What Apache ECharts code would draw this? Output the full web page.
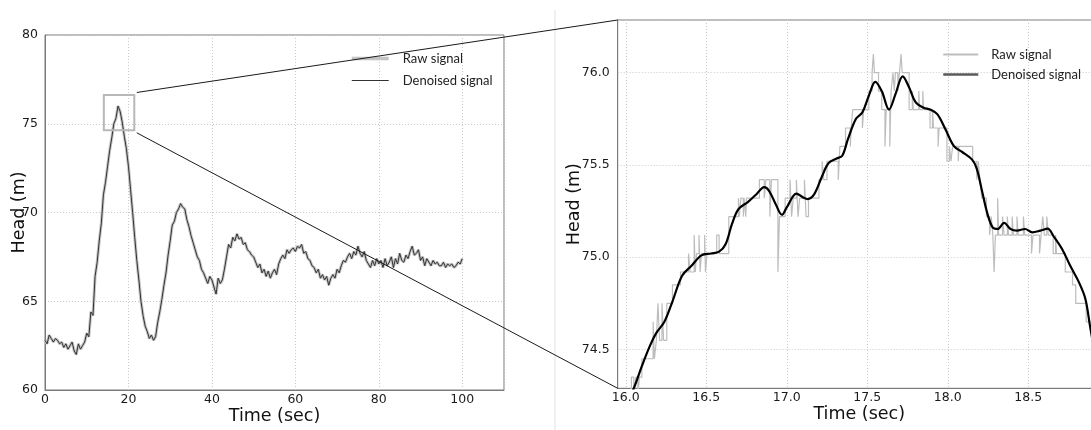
<!DOCTYPE html>
<html lang="en">
<head>
    <meta charset="UTF-8">
    <title>Head signal</title>
    <script src="https://cdn.jsdelivr.net/npm/echarts@6/dist/echarts.min.js"></script>
    <style>
        html, body { margin: 0; padding: 0; background: #fff; overflow: hidden; }
        #main { width: 1091px; height: 430px; }
    </style>
</head>
<body>
<div id="main"></div>
<script>
    // ---- data ----
    // full record, sampled every 0.5 s from 0 to 100 s
    var leftStep = 0.5;
    var leftRaw = [
        62.8, 62.6, 63.1, 62.9, 62.7, 62.9, 62.8, 62.6, 62.7, 62.4,
        62.6, 62.3, 62.5, 62.7, 62.2, 62.0, 62.6, 62.3, 62.5, 62.7,
        63.2, 63.0, 64.4, 64.2, 66.4, 67.2, 68.4, 69.4, 71.0, 71.7,
        72.6, 73.5, 74.2, 75.0, 75.3, 76.0, 75.7, 75.1, 74.3, 73.6,
        72.6, 71.3, 70.0, 68.6, 67.3, 66.2, 65.0, 64.2, 63.6, 63.3,
        62.9, 63.1, 62.8, 63.0, 63.8, 64.4, 65.1, 65.9, 66.6, 67.6,
        68.4, 69.3, 69.5, 70.0, 70.2, 70.5, 70.3, 70.2, 69.6, 69.2,
        68.7, 68.3, 67.9, 67.5, 67.3, 66.8, 66.6, 66.3, 66.0, 66.4,
        66.2, 65.8, 65.4, 66.3, 66.0, 66.2, 66.8, 67.5, 68.2, 68.0,
        68.6, 68.4, 68.8, 68.5, 68.6, 68.2, 68.3, 67.9, 67.8, 67.6,
        67.5, 67.2, 66.9, 67.1, 66.6, 66.8, 66.4, 66.7, 66.3, 66.6,
        66.8, 66.5, 67.1, 67.4, 67.6, 67.4, 67.9, 67.7, 67.9, 68.0,
        67.8, 68.1, 68.0, 68.2, 67.7, 67.8, 67.4, 67.3, 67.0, 66.9,
        66.6, 66.8, 66.3, 66.5, 66.2, 66.4, 65.9, 66.3, 66.5, 66.3,
        66.8, 66.6, 67.0, 67.3, 67.2, 67.5, 67.7, 67.4, 67.8, 67.6,
        68.1, 67.7, 67.5, 67.8, 67.3, 67.1, 66.9, 67.3, 67.0, 67.4,
        67.1, 67.3, 66.9, 67.4, 67.0, 67.2, 67.5, 66.9, 67.4, 67.1,
        67.7, 67.3, 67.2, 67.6, 67.4, 67.8, 68.1, 67.6, 67.7, 67.9,
        67.3, 67.5, 67.0, 67.4, 67.2, 67.0, 67.3, 67.1, 67.2, 67.0,
        67.0, 67.2, 66.9, 67.1, 67.0, 67.1, 66.9, 67.0, 67.2, 67.1,
        67.4
    ];

    // zoomed raw signal: times where the quantised reading changes, and the new reading
    var zoomRawT = [
        15.95, 16.035, 16.05, 16.062, 16.075, 16.085, 16.10, 16.17, 16.178, 16.19,
        16.20, 16.21, 16.225, 16.235, 16.255, 16.29, 16.34, 16.39, 16.40, 16.425,
        16.432, 16.44, 16.455, 16.462, 16.47, 16.49, 16.495, 16.505, 16.565, 16.58,
        16.64, 16.70, 16.705, 16.715, 16.73, 16.735, 16.745, 16.75, 16.83, 16.86,
        16.87, 16.895, 16.905, 16.945, 16.955, 16.99, 17.02, 17.03, 17.04, 17.06,
        17.07, 17.08, 17.11, 17.12, 17.135, 17.20, 17.22, 17.23, 17.25, 17.32,
        17.33, 17.365, 17.395, 17.40, 17.41, 17.47, 17.478, 17.51, 17.53, 17.538,
        17.545, 17.57, 17.59, 17.61, 17.618, 17.64, 17.648, 17.66, 17.668, 17.675,
        17.69, 17.70, 17.71, 17.717, 17.76, 17.78, 17.786, 17.82, 17.826, 17.845,
        17.85, 17.89, 17.905, 17.912, 17.94, 17.946, 17.995, 18.01, 18.02, 18.03,
        18.065, 18.07, 18.155, 18.18, 18.19, 18.20, 18.212, 18.24, 18.26, 18.27,
        18.28, 18.288, 18.296, 18.31, 18.316, 18.34, 18.35, 18.37, 18.378, 18.40,
        18.408, 18.43, 18.438, 18.47, 18.478, 18.52, 18.53, 18.57, 18.58, 18.59,
        18.60, 18.615, 18.625, 18.655, 18.67, 18.675, 18.73, 18.775, 18.795, 18.86,
        18.90, 18.93, 18.96, 19.0
    ];
    var zoomRawV = [
        74.25, 74.35, 74.25, 74.35, 74.25, 74.35, 74.45, 74.65, 74.45, 74.55,
        74.75, 74.55, 74.75, 74.55, 74.75, 74.85, 74.92, 75.02, 74.92, 75.12,
        74.92, 75.02, 75.12, 74.92, 75.02, 75.12, 74.92, 75.02, 75.12, 75.02,
        75.22, 75.32, 75.22, 75.32, 75.22, 75.32, 75.22, 75.32, 75.42, 75.32,
        75.42, 75.22, 75.42, 74.92, 75.22, 75.32, 75.42, 75.22, 75.32, 75.42,
        75.22, 75.32, 75.42, 75.22, 75.32, 75.42, 75.52, 75.42, 75.52, 75.42,
        75.6, 75.7, 75.6, 75.7, 75.8, 75.7, 75.8, 75.9, 76.0, 76.1,
        76.0, 75.9, 75.8, 75.6, 75.8, 75.6, 75.9, 76.0, 75.9, 76.0,
        75.9, 76.0, 76.1, 76.0, 75.8, 75.9, 75.8, 75.9, 75.8, 75.9,
        75.8, 75.7, 75.8, 75.7, 75.6, 75.7, 75.52, 75.6, 75.52, 75.6,
        75.52, 75.6, 75.52, 75.42, 75.52, 75.42, 75.32, 75.22, 75.12, 75.22,
        75.12, 74.92, 75.12, 75.32, 75.12, 75.22, 75.12, 75.22, 75.12, 75.22,
        75.12, 75.22, 75.12, 75.22, 75.12, 75.02, 75.12, 75.02, 75.12, 75.22,
        75.12, 75.22, 75.12, 75.02, 75.12, 75.02, 74.92, 74.85, 74.75, 74.65,
        74.55, 74.45, 74.35, 74.25
    ];

    // zoomed denoised signal
    var zoomDenT = [
        16.0, 16.05, 16.10, 16.15, 16.19, 16.24, 16.29, 16.35, 16.41, 16.47,
        16.53, 16.58, 16.62, 16.66, 16.70, 16.76, 16.81, 16.86, 16.89, 16.93,
        16.97, 17.0, 17.06, 17.10, 17.13, 17.17, 17.22, 17.26, 17.31, 17.345,
        17.38, 17.43, 17.47, 17.51, 17.55, 17.59, 17.635, 17.676, 17.72, 17.76,
        17.80, 17.85, 17.89, 17.935, 17.987, 18.04, 18.09, 18.15, 18.18, 18.21,
        18.245, 18.28, 18.31, 18.35, 18.39, 18.43, 18.48, 18.525, 18.575, 18.62,
        18.66, 18.71, 18.76, 18.815, 18.855, 18.885, 18.92, 18.96
    ];
    var zoomDenV = [
        74.20, 74.29, 74.41, 74.52, 74.59, 74.65, 74.76, 74.90, 74.955, 75.01,
        75.02, 75.03, 75.07, 75.18, 75.26, 75.30, 75.34, 75.38, 75.36, 75.29,
        75.23, 75.27, 75.345, 75.325, 75.315, 75.34, 75.44, 75.51, 75.535, 75.55,
        75.64, 75.75, 75.785, 75.875, 75.95, 75.90, 75.80, 75.885, 75.98, 75.92,
        75.84, 75.81, 75.80, 75.775, 75.69, 75.60, 75.57, 75.53, 75.48, 75.37,
        75.24, 75.16, 75.153, 75.186, 75.153, 75.144, 75.153, 75.135, 75.144, 75.155,
        75.11, 75.045, 74.955, 74.864, 74.774, 74.62, 74.45, 74.30
    ];

    // axis ranges and the inset box drawn on the left chart
    var leftX = [0, 110], leftY = [60, 80];
    var rightX = [15.95, 18.95], rightY = [74.29, 76.285];
    var boxX = [14.1, 21.4], boxY = [74.63, 76.62];

    // ---- chart ----
    var tickFont = { fontFamily: 'DejaVu Sans', fontSize: 12.5, color: '#1a1a1a' };
    var nameFont = { fontFamily: 'DejaVu Sans', fontSize: 17.5, color: '#111' };
    var legendFont = { fontFamily: 'Lato', fontSize: 13, color: '#222' };
    var gridLine = { show: true, lineStyle: { color: '#c9c9c9', type: [1, 2], width: 1 } };
    var spine = { show: true, lineStyle: { color: '#7a7a7a', width: 1 } };
    var noDot = { opacity: 0 };

    var leftData = leftRaw.map(function (v, i) { return [i * leftStep, v]; });
    var rawData = zoomRawT.map(function (t, i) { return [t, zoomRawV[i]]; });
    var denData = zoomDenT.map(function (t, i) { return [t, zoomDenV[i]]; });

    var myChart = echarts.init(document.getElementById('main'));
    var option = {
        animation: false,
        grid: [
            { left: 45, top: 35, width: 459, height: 355, outerBoundsMode: 'none',
              show: true, borderColor: '#7a7a7a', borderWidth: 1 },
            { left: 617.7, top: 20, width: 483, height: 368.3, outerBoundsMode: 'none',
              show: true, borderColor: '#7a7a7a', borderWidth: 1 }
        ],
        xAxis: [{
            gridIndex: 0, type: 'value', min: leftX[0], max: leftX[1], interval: 20,
            name: 'Time (sec)', nameLocation: 'middle', nameGap: 17, nameMoveOverlap: false, nameTextStyle: nameFont,
            axisLine: spine, axisTick: { show: false }, splitLine: gridLine,
            axisLabel: Object.assign({ margin: 3, showMaxLabel: false }, tickFont)
        }, {
            gridIndex: 1, type: 'value', min: rightX[0], max: rightX[1], splitNumber: 6,
            name: 'Time (sec)', nameLocation: 'middle', nameGap: 17, nameMoveOverlap: false, nameTextStyle: nameFont,
            axisLine: spine, axisTick: { show: false }, splitLine: gridLine,
            axisLabel: Object.assign({
                margin: 3, showMinLabel: false, showMaxLabel: false,
                formatter: function (v) { return v.toFixed(1); }
            }, tickFont)
        }],
        yAxis: [{
            gridIndex: 0, type: 'value', min: leftY[0], max: leftY[1], interval: 5,
            name: 'Head (m)', nameLocation: 'middle', nameGap: 17, nameRotate: 90, nameMoveOverlap: false,
            nameTextStyle: nameFont,
            axisLine: spine, axisTick: { show: false }, splitLine: gridLine,
            axisLabel: Object.assign({ margin: 7 }, tickFont)
        }, {
            gridIndex: 1, type: 'value', min: rightY[0], max: rightY[1], splitNumber: 4,
            name: 'Head (m)', nameLocation: 'middle', nameGap: 34, nameRotate: 90, nameMoveOverlap: false,
            nameTextStyle: nameFont,
            axisLine: spine, axisTick: { show: false }, splitLine: gridLine,
            axisLabel: Object.assign({
                margin: 8, showMinLabel: false, showMaxLabel: false,
                formatter: function (v) { return v.toFixed(1); }
            }, tickFont)
        }],
        legend: [{
            orient: 'vertical', left: 345, top: 47, itemWidth: 37, itemHeight: 14, itemGap: 9,
            textStyle: Object.assign({ padding: [0, 0, 0, 9] }, legendFont),
            data: [
                { name: 'Raw signal', itemStyle: noDot, lineStyle: { color: '#c4c4c4', width: 3.5 } },
                { name: 'Denoised signal', itemStyle: noDot, lineStyle: { color: '#333', width: 1 } }
            ]
        }, {
            orient: 'vertical', left: 937, top: 43, itemWidth: 35, itemHeight: 14, itemGap: 7,
            textStyle: Object.assign({ padding: [0, 0, 0, 8] }, legendFont),
            data: [
                { name: 'Raw signal', itemStyle: noDot, lineStyle: { color: '#bdbdbd', width: 2 } },
                { name: 'Denoised signal', itemStyle: noDot, lineStyle: { color: '#5a5a5a', width: 2.5 } }
            ]
        }],
        series: [{
            name: 'Raw signal', type: 'line', xAxisIndex: 0, yAxisIndex: 0,
            data: leftData, symbol: 'none', lineStyle: { color: '#c4c4c4', width: 3 }
        }, {
            name: 'Denoised signal', type: 'line', xAxisIndex: 0, yAxisIndex: 0,
            data: leftData, symbol: 'none', lineStyle: { color: '#333', width: 1 }
        }, {
            name: 'Raw signal', type: 'line', xAxisIndex: 1, yAxisIndex: 1,
            data: rawData, step: 'end', symbol: 'none', lineStyle: { color: '#bdbdbd', width: 1.2 }
        }, {
            name: 'Denoised signal', type: 'line', xAxisIndex: 1, yAxisIndex: 1,
            data: denData, smooth: 0.35, symbol: 'none', lineStyle: { color: '#000', width: 2.2 }
        }]
    };
    myChart.setOption(option);

    // inset box and the two connector lines, placed from the axes
    var tl = myChart.convertToPixel({ gridIndex: 0 }, [boxX[0], boxY[1]]);
    var br = myChart.convertToPixel({ gridIndex: 0 }, [boxX[1], boxY[0]]);
    var rTop = myChart.convertToPixel({ gridIndex: 1 }, [rightX[0], rightY[1]]);
    var rBot = myChart.convertToPixel({ gridIndex: 1 }, [rightX[0], rightY[0]]);
    myChart.setOption({
        graphic: [
            { type: 'rect', shape: { x: tl[0], y: tl[1], width: br[0] - tl[0], height: br[1] - tl[1] },
              style: { fill: null, stroke: '#b8b8b8', lineWidth: 2 }, z: 10 },
            { type: 'line', shape: { x1: br[0] + 2.5, y1: tl[1] - 2.5, x2: rTop[0], y2: rTop[1] },
              style: { stroke: '#1a1a1a', lineWidth: 1 }, z: 10 },
            { type: 'line', shape: { x1: br[0] + 2.5, y1: br[1] + 2.5, x2: rBot[0], y2: rBot[1] },
              style: { stroke: '#1a1a1a', lineWidth: 1 }, z: 10 },
            { type: 'line', shape: { x1: 555, y1: 10, x2: 555, y2: 430 },
              style: { stroke: '#e0e0e0', lineWidth: 1 }, z: 0 }
        ]
    });
</script>
</body>
</html>
